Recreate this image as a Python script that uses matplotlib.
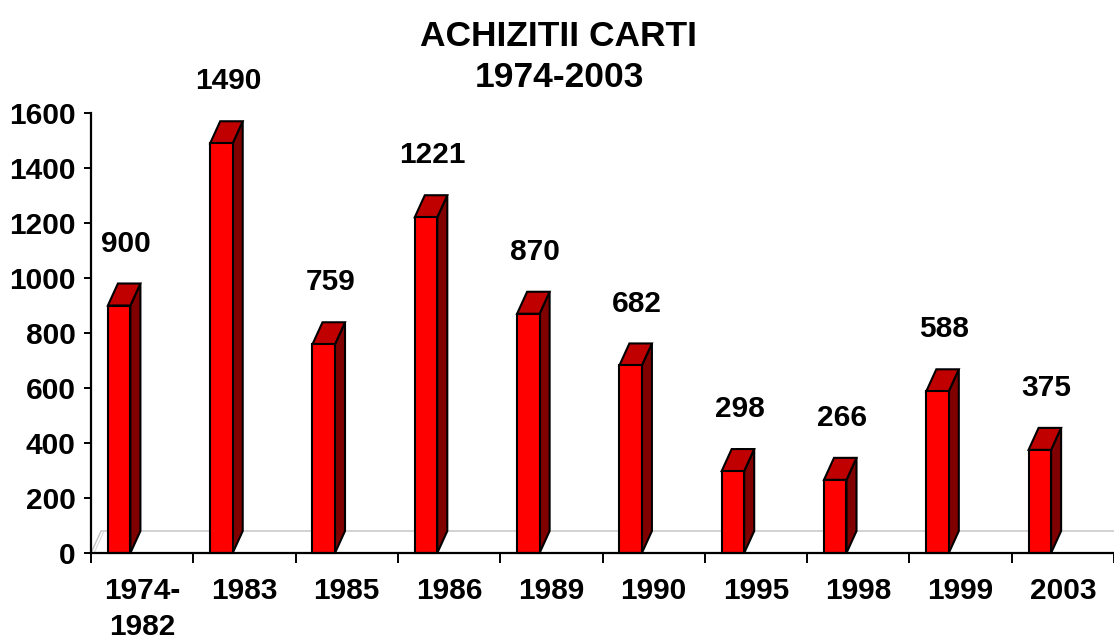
import matplotlib
matplotlib.use("Agg")
import matplotlib.pyplot as plt
from matplotlib.patches import Polygon

plt.rcParams['font.family'] = ['Liberation Sans', 'DejaVu Sans']

categories = ["1974-\n1982", "1983", "1985", "1986", "1989", "1990", "1995", "1998", "1999", "2003"]
values = [900, 1490, 759, 1221, 870, 682, 298, 266, 588, 375]
yticks = [0, 200, 400, 600, 800, 1000, 1200, 1400, 1600]
title = "ACHIZITII CARTI\n1974-2003"

W, H = 1114, 641
fig = plt.figure(figsize=(W / 100, H / 100), dpi=100)
ax = fig.add_axes([91 / W, (H - 553) / H, (W - 91) / W, (553 - 113) / H])
ax.set_xlim(0, len(categories))
ax.set_ylim(0, 1600)

# 3D depth offsets (in data units)
dx, dy = 0.098, 80
x0, bw = 0.165, 0.22

front_c = "#FF0000"
top_c = "#C00000"
side_c = "#800000"
edge_lw = 1.5

# floor
ax.plot([0, dx, len(categories)], [0, dy, dy], color="#C0C0C0", lw=1.0, zorder=1, clip_on=False)
ax.plot([0.03, dx + 0.03], [0, dy], color="#D8D8D8", lw=0.8, zorder=1, clip_on=False)

for i, v in enumerate(values):
    xl = i + x0
    xr = xl + bw
    front = Polygon([(xl, 0), (xr, 0), (xr, v), (xl, v)], closed=True,
                    facecolor=front_c, edgecolor="black", lw=edge_lw, zorder=3, clip_on=False)
    top = Polygon([(xl, v), (xr, v), (xr + dx, v + dy), (xl + dx, v + dy)], closed=True,
                  facecolor=top_c, edgecolor="black", lw=edge_lw, zorder=3, clip_on=False)
    side = Polygon([(xr, 0), (xr + dx, dy), (xr + dx, v + dy), (xr, v)], closed=True,
                   facecolor=side_c, edgecolor="black", lw=edge_lw, zorder=3, clip_on=False)
    for p in (side, top, front):
        ax.add_patch(p)
    ax.text(xl + bw / 2 + 0.065, v + 225, str(v), ha="center", va="center",
            fontsize=21.5, fontweight="bold", clip_on=False, zorder=4)

# axes styling
for s in ("top", "right"):
    ax.spines[s].set_visible(False)
for s in ("left", "bottom"):
    ax.spines[s].set_linewidth(1.6)
    ax.spines[s].set_zorder(5)

ax.set_yticks(yticks)
ax.set_yticklabels([str(t) for t in yticks], fontsize=21.5, fontweight="bold")
ax.tick_params(axis="y", direction="out", length=5, width=1.4, pad=6)

ax.set_xticks(range(len(categories) + 1))
ax.set_xticklabels([])
ax.tick_params(axis="x", which="major", direction="out", length=7, width=1.4)
ax.set_xticks([i + 0.5 for i in range(len(categories))], minor=True)
ax.set_xticklabels(categories, minor=True, fontsize=21.5, fontweight="bold",
                   linespacing=1.4)
ax.tick_params(axis="x", which="minor", length=0, pad=17)

fig.text(559 / W, 1 - 57 / H, title, ha="center", va="center", fontsize=25.5,
         fontweight="bold", linespacing=1.3)

fig.savefig("out.png", dpi=100, facecolor="white")
